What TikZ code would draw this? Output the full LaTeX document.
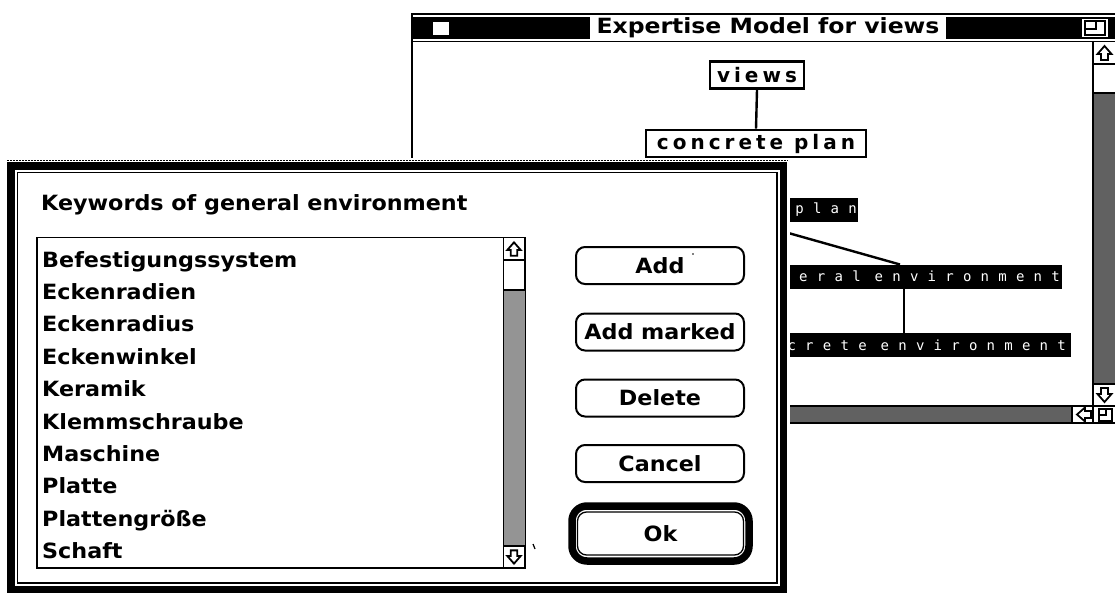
\documentclass[tikz,border=0pt]{standalone}
\usepackage{fontspec}
\setmainfont{DejaVu Sans}
\newfontfamily\chic{DejaVu Sans}[UprightFont={* Bold},FakeStretch=1.06]
\newfontfamily\chicT{DejaVu Sans}[UprightFont={* Bold},FakeStretch=1.12]
\newfontfamily\spacedb{DejaVu Sans}[UprightFont={* Bold},LetterSpace=20]
\newfontfamily\spacedw{DejaVu Sans Mono}[LetterSpace=66]
\tikzset{
  winline/.style={line width=1.6pt, draw=black},
  viewnode/.style={draw=black, line width=2.6pt, fill=white, inner sep=0pt, font=\spacedb\fontsize{20}{20}\selectfont},
  blknode/.style={fill=black, text=white, inner sep=0pt, font=\spacedw\fontsize{14}{14}\selectfont, minimum height=24pt, align=right},
  edge/.style={line width=2.4pt, draw=black},
  item/.style={anchor=base west, inner sep=0pt, font=\chic\fontsize{21}{21}\selectfont},
  btn/.style={draw=black, line width=2pt, rounded corners=9pt, fill=white, minimum width=168pt, minimum height=37pt, font=\chic\fontsize{21}{21}\selectfont},
  grayfill/.style={fill=black!62},
  lightgray/.style={fill=black!42},
  arrowicon/.pic={\draw[line width=1.8pt, line join=miter, fill=white] (-7,1) -- (0,-7) -- (7,1) -- (3.5,1) -- (3.5,7) -- (-3.5,7) -- (-3.5,1) -- cycle;}
}
\begin{document}
\begin{tikzpicture}[x=1pt,y=-1pt]
\useasboundingbox (0,0) rectangle (1115,596);
\fill[white] (0,0) rectangle (1115,596);

% ---------------- back window ----------------
\draw[winline] (411,14) -- (1116,14);
\draw[winline] (412,14) -- (412,170);
\fill[black] (413,17) rectangle (1116,39);
\fill[white] (433,22) rectangle (449,35);
\node[fill=white, inner xsep=7pt, inner ysep=1pt, minimum height=22pt, font=\chicT\fontsize{21}{21}\selectfont] (title) at (768,28) {Expertise Model for views};
% zoom box
\fill[white] (1082,19) rectangle (1108,37);
\draw[line width=1.6pt] (1085,21) rectangle (1105,35);
\draw[line width=1.6pt] (1085,29) -- (1096,29) -- (1096,21);
\draw[winline] (413,41.5) -- (1116,41.5);
% right scroll bar
\draw[winline] (1093,41) -- (1093,423);
\fill[grayfill] (1094,93) rectangle (1116,384);
\draw[line width=1.3pt] (1093,64) -- (1116,64);
\draw[line width=1.3pt] (1093,93) -- (1116,93);
\draw[line width=1.3pt] (1093,384) -- (1116,384);
\pic at (1104.5,53) {arrowicon};
\pic[rotate=180] at (1104.5,395) {arrowicon};
% bottom scroll bar
\draw[winline] (700,406) -- (1116,406);
\fill[grayfill] (700,407) rectangle (1072,422);
\draw[line width=1.3pt] (1072,406) -- (1072,423);
\pic[rotate=90] at (1084,414.5) {arrowicon};
\draw[winline] (700,423) -- (1116,423);
\draw[line width=1.8pt] (1099,409) rectangle (1112,421);
\draw[line width=1.8pt] (1099,415) -- (1106,415) -- (1106,409);

% graph
\node[viewnode, minimum width=94pt, minimum height=27pt] (views) at (757,75) {views};
\node[viewnode, minimum width=220pt, minimum height=27pt] (cplan) at (756,143.5) {concrete plan};
\draw[edge] (views.south) -- (cplan.north);
\coordinate (cdown) at (757,170);
\draw[edge] (cplan.south) -- (cdown);

\node[blknode, anchor=east, text width=140pt] (plan) at (858,210) {plan\hspace*{1pt}};
\node[blknode, anchor=east, text width=330pt] (genv) at (1062,276.5) {neral\hspace*{14pt}environment\hspace*{2pt}};
\node[blknode, anchor=east, text width=340pt] (cenv) at (1071,345) {crete\hspace*{14pt}environment\hspace*{5pt}};
\coordinate (pl) at (760,225);
\coordinate (gtop) at (900,264.5);
\draw[edge] (pl) -- (gtop);
\draw[edge] (904,288) -- (904,333);

% ---------------- dialog ----------------
\fill[white] (3,158) rectangle (790,596);
\draw[line width=1pt, dash pattern=on 2pt off 1pt] (7,160.5) -- (788,160.5);
\draw[line width=7.5pt] (11,166) rectangle (783.5,589.5);
\draw[line width=1.3pt] (17.5,172.5) rectangle (777,583);

\node[anchor=base west, inner sep=0pt, font=\chic\fontsize{21}{21}\selectfont] (head) at (41,210.5) {Keywords of general environment};

% list box
\draw[line width=1.6pt] (37,237.5) rectangle (525,568);
\fill[lightgray] (504,290) rectangle (524.5,546);
\draw[line width=1.4pt] (503.5,237.5) -- (503.5,568);
\draw[line width=1.4pt] (503,260) -- (525,260);
\draw[line width=1.4pt] (503,290) -- (525,290);
\draw[line width=1.4pt] (503,546) -- (525,546);
\pic[scale=0.95] at (514,249) {arrowicon};
\pic[scale=0.95,rotate=180] at (514,557) {arrowicon};

\foreach \t [count=\i from 0] in {Befestigungssystem,Eckenradien,Eckenradius,Eckenwinkel,Keramik,Klemmschraube,Maschine,Platte,Plattengröße,Schaft}
  \node[item] (it\i) at (42,267+32.4*\i) {\t};

% buttons
\node[btn] (add) at (660,265.5) {Add};
\node[btn] (addm) at (660,332) {Add marked};
\node[btn] (del) at (660,398) {Delete};
\node[btn] (can) at (660,463.5) {Cancel};
\draw[line width=7.5pt, rounded corners=15pt] (572,506) rectangle (749,561);
\node[btn, minimum width=166pt, minimum height=43pt, line width=1.3pt] (ok) at (660.5,533.5) {Ok};
\draw[line width=1.2pt] (533,544) -- (535,549);
\fill (693,254) circle (0.9pt);
\end{tikzpicture}
\end{document}
